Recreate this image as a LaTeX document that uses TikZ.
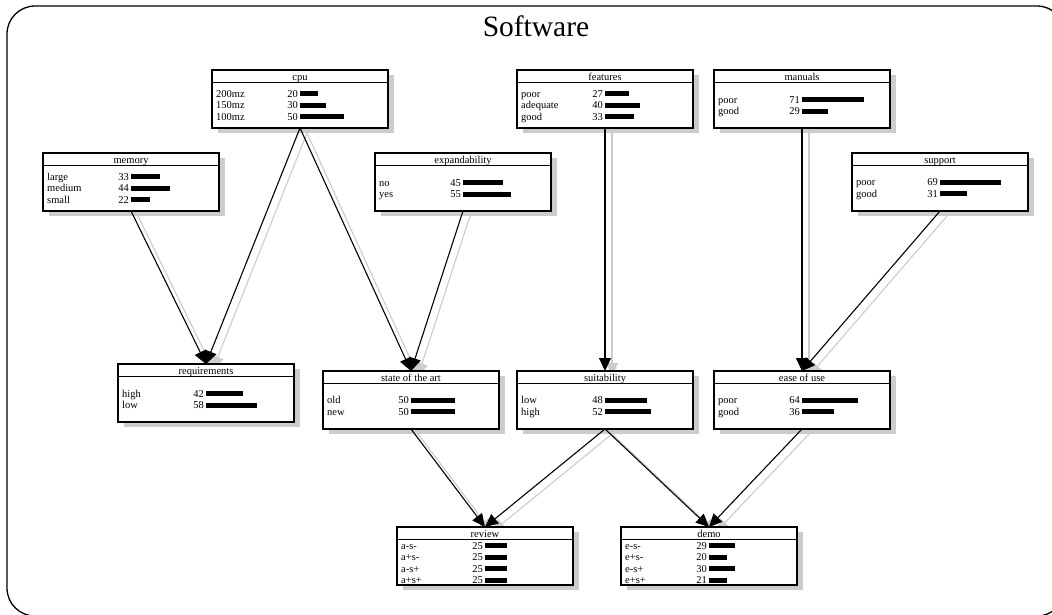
\documentclass[tikz,border=0pt]{standalone}
\usepackage{fontspec}
\setmainfont{Liberation Serif}
\usetikzlibrary{arrows.meta}
\pgfdeclarelayer{bg}
\pgfsetlayers{bg,main}
\definecolor{shadegray}{gray}{0.8}
\tikzset{
  bnframe/.style={draw=black, line width=1.3pt, fill=white, rectangle,
    minimum width=176pt, minimum height=58pt, inner sep=0pt, outer sep=0pt},
  ntext/.style={font=\fontsize{10.5}{12}\selectfont, inner sep=0pt},
  edge/.style={line width=1.1pt, -{Triangle[length=13pt,width=12pt]}},
  gedge/.style={edge, draw=shadegray, fill=shadegray},
}
% box: name, x, y (top left), title
\newcommand\bnbox[4]{%
  \node[bnframe, anchor=north west] (#1) at (#2,#3) {};
  \begin{pgfonlayer}{bg}
    \fill[shadegray] ([shift={(6,5)}]#1.north west) rectangle ([shift={(6,5)}]#1.south east);
  \end{pgfonlayer}
  \draw[line width=1pt] ([yshift=-12.5pt]#1.north west) -- ([yshift=-12.5pt]#1.north east);
  \node[ntext, anchor=base] (#1-title) at ([yshift=-10pt]#1.north) {#4};
}
% row: name, index, x0, y, label, value
\newcommand\bnrow[6]{%
  \node[ntext, anchor=base west] (#1-l#2) at (#3+4,#4+3.5) {#5};
  \node[ntext, anchor=base east] (#1-v#2) at (#3+86,#4+3.5) {#6};
  \fill (#3+88,#4-2.5) rectangle ++(0.88*#6,5);
}
% rows: name, x0, first y, list label/value
\newcommand\bnrows[4]{%
  \foreach \lab/\val [count=\i from 0] in {#4} {\bnrow{#1}{\i}{#2}{#3+11.5*\i}{\lab}{\val}}%
}
\begin{document}
\begin{tikzpicture}[x=1pt,y=-1pt]
\useasboundingbox (0,0) rectangle (1052,614);
\clip (0,0) rectangle (1052,614);
\draw[line width=1.3pt, rounded corners=28pt] (7,6) rectangle (1065,616);
\node[font=\fontsize{29.5}{34}\selectfont, anchor=base, inner sep=0pt] (title) at (536,36.5) {Software};

\bnbox{cpu}{212}{70}{cpu}
\bnrows{cpu}{212}{93.5}{200mz/20,150mz/30,100mz/50}
\bnbox{memory}{43}{153}{memory}
\bnrows{memory}{43}{176.5}{large/33,medium/44,small/22}
\bnbox{expand}{375}{153}{expandability}
\bnrows{expand}{375}{182.5}{no/45,yes/55}
\bnbox{features}{517}{70}{features}
\bnrows{features}{517}{93.5}{poor/27,adequate/40,good/33}
\bnbox{manuals}{714}{70}{manuals}
\bnrows{manuals}{714}{99.5}{poor/71,good/29}
\bnbox{support}{852}{153}{support}
\bnrows{support}{852}{182}{poor/69,good/31}
\bnbox{req}{118}{364}{requirements}
\bnrows{req}{118}{393.5}{high/42,low/58}
\bnbox{state}{323}{371}{state of the art}
\bnrows{state}{323}{400}{old/50,new/50}
\bnbox{suit}{517}{371}{suitability}
\bnrows{suit}{517}{400}{low/48,high/52}
\bnbox{ease}{714}{371}{ease of use}
\bnrows{ease}{714}{400}{poor/64,good/36}
\bnbox{review}{397}{527}{review}
\bnrows{review}{397}{545.5}{a-s-/25,a+s-/25,a-s+/25,a+s+/25}
\bnbox{demo}{621}{527}{demo}
\bnrows{demo}{621}{545.5}{e-s-/29,e+s-/20,e-s+/30,e+s+/21}

\begin{pgfonlayer}{bg}
\foreach \a/\b in {memory/req,cpu/req,cpu/state,expand/state,features/suit,manuals/ease,support/ease,state/review,suit/review,suit/demo,ease/demo}
  \draw[gedge] ([shift={(7,5)}]\a.south) -- ([shift={(7,5)}]\b.north);
\end{pgfonlayer}
\foreach \a/\b in {memory/req,cpu/req,cpu/state,expand/state,features/suit,manuals/ease,support/ease,state/review,suit/review,suit/demo,ease/demo}
  \draw[edge] (\a.south) -- (\b.north);
\end{tikzpicture}
\end{document}
